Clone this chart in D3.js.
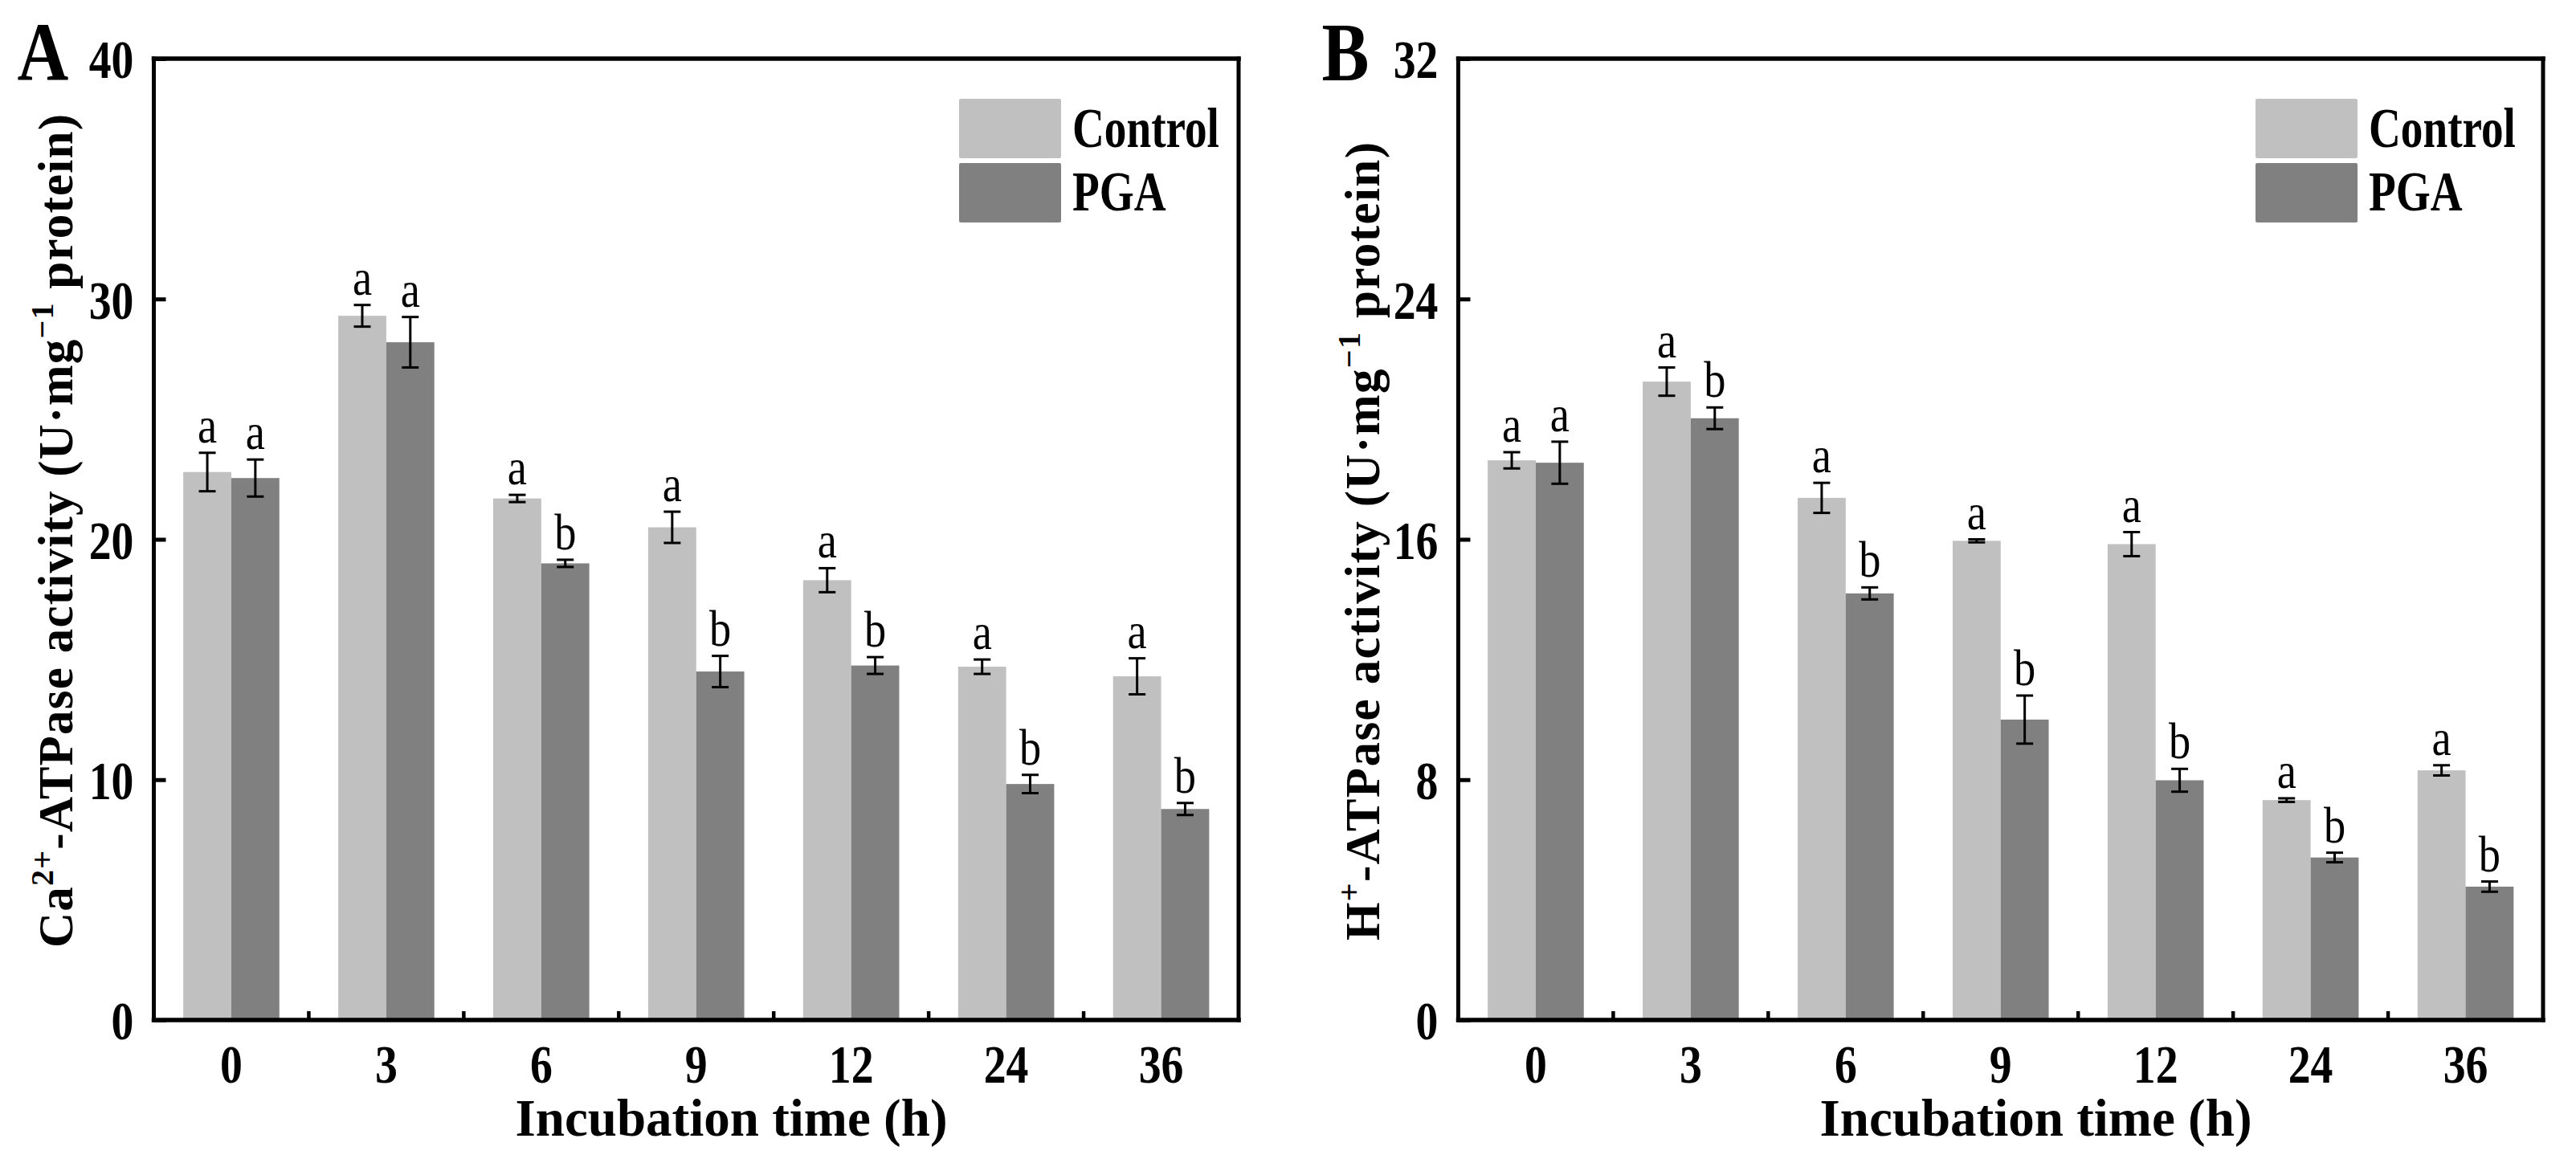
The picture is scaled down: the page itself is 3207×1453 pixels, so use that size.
<!DOCTYPE html>
<html>
<head>
<meta charset="utf-8">
<script src="https://cdn.jsdelivr.net/npm/d3@7"></script>
<style>
  body { margin: 0; background: #fff; }
  svg { display: block; }
  text { font-family: "Liberation Serif", "Times New Roman", serif; }
</style>
</head>
<body>
<svg id="chart" width="3207" height="1453"></svg>
<script>
// incubation times (h)
const categories = ['0', '3', '6', '9', '12', '24', '36'];
const seriesNames = ['Control', 'PGA'];

// panel A: Ca2+-ATPase activity
const caControl = [22.8, 29.3, 21.7, 20.5, 18.3, 14.7, 14.3];
const caControlErr = [0.8, 0.45, 0.15, 0.65, 0.5, 0.3, 0.75];
const caPGA = [22.55, 28.2, 19.0, 14.5, 14.75, 9.82, 8.78];
const caPGAErr = [0.77, 1.05, 0.15, 0.65, 0.35, 0.38, 0.25];
const caControlSig = ['a', 'a', 'a', 'a', 'a', 'a', 'a'];
const caPGASig = ['a', 'a', 'b', 'b', 'b', 'b', 'b'];
const caTicks = [0, 10, 20, 30, 40];

// panel B: H+-ATPase activity
const hControl = [18.63, 21.25, 17.38, 15.95, 15.84, 7.32, 8.31];
const hControlErr = [0.27, 0.47, 0.5, 0.05, 0.4, 0.06, 0.17];
const hPGA = [18.55, 20.03, 14.2, 10.0, 7.98, 5.41, 4.44];
const hPGAErr = [0.7, 0.36, 0.2, 0.8, 0.38, 0.16, 0.17];
const hControlSig = ['a', 'a', 'a', 'a', 'a', 'a', 'a'];
const hPGASig = ['a', 'b', 'b', 'b', 'b', 'b', 'b'];
const hTicks = [0, 8, 16, 24, 32];

const colors = ['#c0c0c0', '#808080'];
const svg = d3.select('#chart');

function drawPanel(o) {
  const left = o.left, right = o.left + 1350.5, top = 73, bottom = 1270;
  const g = svg.append('g');

  const x = d3.scaleBand().domain(categories).range([left, right]).padding(0);
  const y = d3.scaleLinear().domain([0, o.max]).range([bottom, top]);
  const bw = x.bandwidth() * 0.31;

  // rows: one per bar
  const rows = [];
  categories.forEach((c, i) => {
    rows.push({ c, s: 0, v: o.ctrl[i], e: o.ctrlErr[i], sig: o.ctrlSig[i] });
    rows.push({ c, s: 1, v: o.pga[i], e: o.pgaErr[i], sig: o.pgaSig[i] });
  });
  const cx = d => x(d.c) + x.bandwidth() / 2 + (d.s === 0 ? -bw / 2 : bw / 2);

  g.selectAll('rect.bar').data(rows).enter().append('rect')
    .attr('class', 'bar')
    .attr('x', d => cx(d) - bw / 2)
    .attr('width', bw)
    .attr('y', d => y(d.v))
    .attr('height', d => bottom - y(d.v))
    .attr('fill', d => colors[d.s]);

  // error bars
  const eb = g.selectAll('g.err').data(rows).enter().append('g')
    .attr('class', 'err').attr('stroke', '#000').attr('stroke-width', 3);
  eb.append('line')
    .attr('x1', cx).attr('x2', cx)
    .attr('y1', d => y(d.v + d.e)).attr('y2', d => y(d.v - d.e));
  eb.append('line')
    .attr('x1', d => cx(d) - 10.5).attr('x2', d => cx(d) + 10.5)
    .attr('y1', d => y(d.v + d.e)).attr('y2', d => y(d.v + d.e));
  eb.append('line')
    .attr('x1', d => cx(d) - 10.5).attr('x2', d => cx(d) + 10.5)
    .attr('y1', d => y(d.v - d.e)).attr('y2', d => y(d.v - d.e));

  // significance letters
  g.selectAll('text.sig').data(rows).enter().append('text')
    .attr('class', 'sig')
    .attr('text-anchor', 'middle')
    .attr('font-size', 64)
    .attr('transform', d => `translate(${cx(d)},${y(d.v + d.e) - 13}) scale(0.85,1)`)
    .text(d => d.sig);

  // y axis
  const ya = g.append('g').attr('transform', `translate(${left},0)`)
    .call(d3.axisLeft(y).tickValues(o.ticks).tickSize(-15).tickFormat(d3.format('d')));
  ya.select('.domain').remove();
  ya.selectAll('.tick line').attr('stroke-width', 5);
  ya.selectAll('.tick text')
    .attr('x', null)
    .attr('font-size', 68).attr('font-weight', 'bold')
    .attr('font-family', '"Liberation Serif", serif')
    .attr('transform', 'translate(-25,2) scale(0.82,1)');

  // x axis labels
  const xa = g.append('g').attr('transform', `translate(0,${bottom})`)
    .call(d3.axisBottom(x).tickSize(0).tickPadding(30));
  xa.select('.domain').remove();
  xa.selectAll('.tick text')
    .attr('font-size', 68).attr('font-weight', 'bold')
    .attr('font-family', '"Liberation Serif", serif')
    .attr('transform', 'scale(0.82,1)');

  // short ticks between groups
  g.selectAll('line.sep').data(categories.slice(1)).enter().append('line')
    .attr('x1', d => x(d)).attr('x2', d => x(d))
    .attr('y1', bottom).attr('y2', bottom - 11)
    .attr('stroke', '#000').attr('stroke-width', 4.5);

  // frame
  const frame = [
    [left, top, right, top, 5.5],
    [left, bottom, right, bottom, 5.5],
    [left, top, left, bottom, 5],
    [right, top, right, bottom, 5]
  ];
  g.selectAll('line.frame').data(frame).enter().append('line')
    .attr('x1', d => d[0]).attr('y1', d => d[1])
    .attr('x2', d => d[2]).attr('y2', d => d[3])
    .attr('stroke', '#000').attr('stroke-width', d => d[4])
    .attr('stroke-linecap', 'square');

  // legend
  const lx = right - 348 + o.legendShift;
  seriesNames.forEach((name, i) => {
    g.append('rect')
      .attr('x', lx).attr('y', 123 + i * 80)
      .attr('width', 127).attr('height', 74).attr('rx', 2)
      .attr('fill', colors[i]);
    g.append('text')
      .attr('transform', `translate(${lx + 141},${183 + i * 79}) scale(0.8,1)`)
      .attr('font-size', 69).attr('font-weight', 'bold')
      .text(name);
  });

  // panel letter
  g.append('text')
    .attr('transform', `translate(${left - 170},100) scale(0.85,1)`)
    .attr('font-size', 104).attr('font-weight', 'bold')
    .text(o.letter);

  // x title
  g.append('text')
    .attr('x', left + 719).attr('y', 1414)
    .attr('text-anchor', 'middle')
    .attr('font-size', 65).attr('font-weight', 'bold')
    .text('Incubation time (h)');

  // y title
  const yt = g.append('text')
    .attr('transform', `translate(${o.ytX},${o.ytY}) rotate(-90)`)
    .attr('text-anchor', 'middle')
    .attr('font-size', 61).attr('font-weight', 'bold')
    .attr('textLength', o.ytLen).attr('lengthAdjust', 'spacing');
  yt.append('tspan').text(o.ion);
  yt.append('tspan').attr('font-size', 40).attr('dy', -24).text(o.charge);
  yt.append('tspan').attr('dy', 24).text('-ATPase activity (U\u00b7mg');
  yt.append('tspan').attr('font-size', 40).attr('dy', -24).text('\u22121');
  yt.append('tspan').attr('dy', 24).text(' protein)');
}

drawPanel({
  left: 191.5, max: 40, ticks: caTicks, letter: 'A', legendShift: 0,
  ctrl: caControl, ctrlErr: caControlErr, ctrlSig: caControlSig,
  pga: caPGA, pgaErr: caPGAErr, pgaSig: caPGASig,
  ion: 'Ca', charge: '2+', ytX: 90, ytY: 661, ytLen: 1038
});
drawPanel({
  left: 1815.5, max: 32, ticks: hTicks, letter: 'B', legendShift: -10,
  ctrl: hControl, ctrlErr: hControlErr, ctrlSig: hControlSig,
  pga: hPGA, pgaErr: hPGAErr, pgaSig: hPGASig,
  ion: 'H', charge: '+', ytX: 1717, ytY: 674, ytLen: 994
});
</script>
</body>
</html>
